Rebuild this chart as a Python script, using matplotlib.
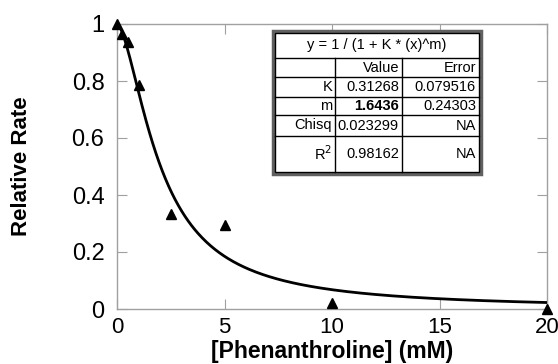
import numpy as np
import matplotlib.pyplot as plt
from matplotlib.patches import Rectangle
from matplotlib.lines import Line2D

plt.rcParams['font.family'] = ['Liberation Sans', 'DejaVu Sans']

# measured data
phen_mM = [0, 0.25, 0.5, 1, 2.5, 5, 10, 20]
rel_rate = [1.0, 0.965, 0.937, 0.786, 0.333, 0.295, 0.02, 0.0]

# fit parameters y = 1 / (1 + K * x^m)
K = 0.31268
m = 1.6436

x_ticks = [0, 5, 10, 15, 20]
y_ticks = [0, 0.2, 0.4, 0.6, 0.8, 1]
y_tick_labels = ['0', '0.2', '0.4', '0.6', '0.8', '1']

table_title = 'y = 1 / (1 + K * (x)^m)'
table_rows = [
    ['', 'Value', 'Error'],
    ['K', '0.31268', '0.079516'],
    ['m', '1.6436', '0.24303'],
    ['Chisq', '0.023299', 'NA'],
    ['R$^2$', '0.98162', 'NA'],
]

W, H = 558, 364
fig = plt.figure(figsize=(W / 100, H / 100), dpi=100)
ax = fig.add_axes([117 / W, 1 - 309 / H, (547 - 117) / W, (309 - 24) / H])

xs = np.linspace(0, 20, 400)
ax.plot(xs, 1 / (1 + K * xs ** m), color='black', lw=2, zorder=3)
ax.plot(phen_mM, rel_rate, linestyle='none', marker='^', ms=7,
        color='black', clip_on=False, zorder=4)

ax.set_xlim(0, 20)
ax.set_ylim(0, 1)
ax.set_xticks(x_ticks)
ax.set_yticks(y_ticks)
ax.set_yticklabels(y_tick_labels)
ax.tick_params(direction='in', length=7, color='#a0a0a0', labelsize=16,
               top=True, right=True)
ax.tick_params(axis='y', labelsize=17, pad=9)
ax.tick_params(axis='x', pad=6)
for s in ax.spines.values():
    s.set_color('#a0a0a0')
    s.set_linewidth(1)

ax.set_xlabel('[Phenanthroline] (mM)', fontsize=16.5, fontweight='bold')
ax.set_ylabel('Relative Rate', fontsize=16, fontweight='bold')
ax.xaxis.set_label_coords(0.5, -0.108)
ax.yaxis.set_label_coords(-0.198, 0.5)

# fit results box (pixel coordinates converted to figure fractions)
def fx(px):
    return px / W

def fy(py):
    return 1 - py / H

col_edges = [275, 335, 402, 479]
row_edges = [33, 58, 77, 97, 115, 136, 172]

fig.add_artist(Rectangle((fx(273), fy(174)), fx(481) - fx(273), fy(31) - fy(174),
                         transform=fig.transFigure, facecolor='white',
                         edgecolor='#606060', lw=2.5, zorder=5))
fig.add_artist(Rectangle((fx(275), fy(172)), fx(479) - fx(275), fy(33) - fy(172),
                         transform=fig.transFigure, facecolor='white',
                         edgecolor='black', lw=1, zorder=6))
for r in row_edges[1:-1]:
    fig.add_artist(Line2D([fx(275), fx(479)], [fy(r), fy(r)],
                          transform=fig.transFigure, color='black', lw=1, zorder=7))
for c in col_edges[1:-1]:
    fig.add_artist(Line2D([fx(c), fx(c)], [fy(58), fy(172)],
                          transform=fig.transFigure, color='black', lw=1, zorder=7))

fig.text(fx((275 + 479) / 2), fy((33 + 58) / 2), table_title, fontsize=10.5,
         ha='center', va='center', zorder=8)
for i, row in enumerate(table_rows):
    yc = fy((row_edges[i + 1] + row_edges[i + 2]) / 2)
    for j, txt in enumerate(row):
        if not txt:
            continue
        bold = (i == 2 and j == 1)
        fig.text(fx(col_edges[j + 1] - 3), yc, txt, fontsize=10.5, ha='right',
                 va='center', zorder=8,
                 fontweight='bold' if bold else 'normal')

fig.savefig('out.png', dpi=100)
